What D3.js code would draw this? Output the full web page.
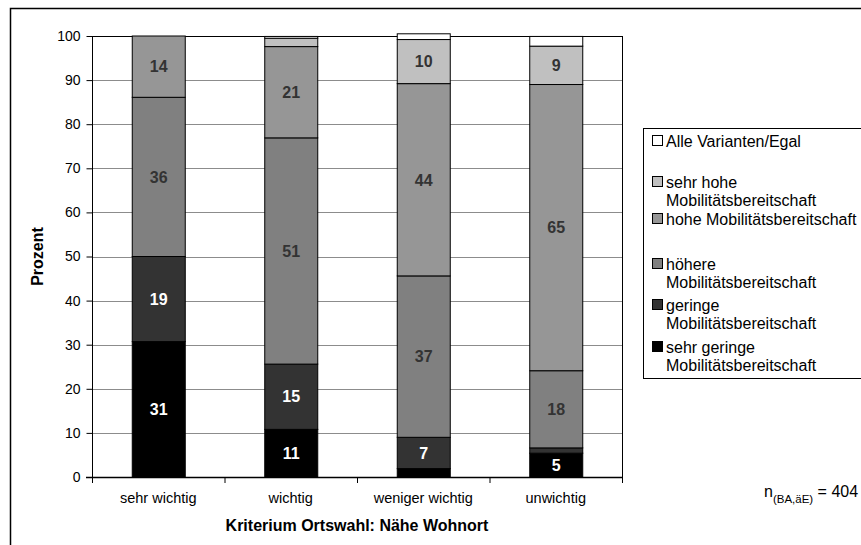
<!DOCTYPE html>
<html>
<head>
<meta charset="utf-8">
<script src="https://cdn.jsdelivr.net/npm/d3@7"></script>
<style>
  html, body { margin: 0; padding: 0; background: #fff; }
  svg { display: block; font-family: "Liberation Sans", Arial, sans-serif; }
</style>
</head>
<body>
<svg id="chart" width="861" height="545"></svg>
<script>
// Kriterium Ortswahl: Nähe Wohnort – Mobilitätsbereitschaft in Prozent
const categories = ["sehr wichtig", "wichtig", "weniger wichtig", "unwichtig"];

// one array per response group, stacked bottom to top
const sehrGering = [30.7, 10.8, 1.9, 5.4];
const gering     = [19.3, 14.8, 7.1, 1.2];
const hoehere    = [36.1, 51.3, 36.6, 17.5];
const hohe       = [13.9, 20.7, 43.6, 64.9];
const sehrHohe   = [0, 1.9, 10.0, 8.7];
const alleEgal   = [0, 0.4, 1.3, 2.2];

const seriesNames = [
  "sehr geringe Mobilitätsbereitschaft",
  "geringe Mobilitätsbereitschaft",
  "höhere Mobilitätsbereitschaft",
  "hohe Mobilitätsbereitschaft",
  "sehr hohe Mobilitätsbereitschaft",
  "Alle Varianten/Egal"
];
const seriesValues = [sehrGering, gering, hoehere, hohe, sehrHohe, alleEgal];
const seriesColors = ["#000000", "#333333", "#808080", "#969696", "#c0c0c0", "#ffffff"];
const labelColors  = ["#ffffff", "#ffffff", "#333333", "#333333", "#333333", "#333333"];

const yTicks = [0, 10, 20, 30, 40, 50, 60, 70, 80, 90, 100];

// legend entries, top to bottom, with their line breaks
const legendLines = [
  ["Alle Varianten/Egal"],
  ["sehr hohe", "Mobilitätsbereitschaft"],
  ["hohe Mobilitätsbereitschaft"],
  ["höhere", "Mobilitätsbereitschaft"],
  ["geringe", "Mobilitätsbereitschaft"],
  ["sehr geringe", "Mobilitätsbereitschaft"]
];
const legendColors = ["#ffffff", "#c0c0c0", "#969696", "#808080", "#333333", "#000000"];

const svg = d3.select("#chart");

// outer chart frame (runs off the right and bottom edge)
svg.append("rect")
  .attr("x", 10.5).attr("y", 8.5)
  .attr("width", 900).attr("height", 600)
  .attr("fill", "none").attr("stroke", "#000").attr("stroke-width", 1.5);

const plot = { left: 92, right: 622, top: 36, bottom: 477 };

const x = d3.scaleBand()
  .domain(categories)
  .range([plot.left, plot.right])
  .paddingInner(0.6)
  .paddingOuter(0.3);

const y = d3.scaleLinear().domain([0, 100]).range([plot.bottom, plot.top]);

// horizontal gridlines
svg.append("g")
  .selectAll("line")
  .data(yTicks.filter(t => t > 0 && t < 100))
  .join("line")
  .attr("x1", plot.left).attr("x2", plot.right)
  .attr("y1", d => Math.round(y(d)) + 0.5).attr("y2", d => Math.round(y(d)) + 0.5)
  .attr("stroke", "#8c8c8c").attr("stroke-width", 1);

// plot area border
svg.append("rect")
  .attr("x", plot.left + 0.5).attr("y", plot.top + 0.5)
  .attr("width", plot.right - plot.left).attr("height", plot.bottom - plot.top)
  .attr("fill", "none").attr("stroke", "#000").attr("stroke-width", 1);

// stacked segments
const rows = categories.map((c, i) => {
  const r = { cat: c };
  seriesNames.forEach((s, k) => { r[s] = seriesValues[k][i]; });
  return r;
});
const stacked = d3.stack().keys(seriesNames)(rows);

const barLayer = svg.append("g");
stacked.forEach((layer, k) => {
  barLayer.append("g")
    .selectAll("rect")
    .data(layer.filter(d => d[1] - d[0] > 0))
    .join("rect")
    .attr("x", d => x(d.data.cat) + 0.5)
    .attr("width", x.bandwidth())
    .attr("y", d => y(d[1]))
    .attr("height", d => y(d[0]) - y(d[1]))
    .attr("fill", seriesColors[k])
    .attr("stroke", "#000")
    .attr("stroke-width", 1);
});

// data labels for segments of 5 % and more
stacked.forEach((layer, k) => {
  barLayer.append("g")
    .selectAll("text")
    .data(layer.filter(d => d[1] - d[0] >= 5))
    .join("text")
    .attr("x", d => x(d.data.cat) + x.bandwidth() / 2 + 0.5)
    .attr("y", d => (y(d[0]) + y(d[1])) / 2)
    .attr("dy", "0.36em")
    .attr("text-anchor", "middle")
    .attr("font-size", 16)
    .attr("font-weight", "bold")
    .attr("fill", labelColors[k])
    .text(d => Math.round(d[1] - d[0]));
});

// y axis
const yAxis = svg.append("g")
  .attr("transform", `translate(${plot.left + 0.5},0)`)
  .call(d3.axisLeft(y).tickValues(yTicks).tickSize(6).tickPadding(6).tickFormat(d3.format("d")));
yAxis.select(".domain").attr("stroke", "#000").attr("d", `M0,${plot.top}V${plot.bottom + 0.5}`);
yAxis.selectAll(".tick line").attr("stroke", "#000");
yAxis.selectAll(".tick text")
  .attr("font-size", 14)
  .attr("font-family", "Liberation Sans, Arial, sans-serif")
  .attr("fill", "#000");

// x axis line, category ticks and labels
svg.append("line")
  .attr("x1", plot.left - 6).attr("x2", plot.right)
  .attr("y1", plot.bottom + 0.5).attr("y2", plot.bottom + 0.5)
  .attr("stroke", "#000").attr("stroke-width", 1.5);

const step = x.step();
svg.append("g")
  .selectAll("line")
  .data(d3.range(categories.length + 1))
  .join("line")
  .attr("x1", i => plot.left + i * step + 0.5)
  .attr("x2", i => plot.left + i * step + 0.5)
  .attr("y1", plot.bottom).attr("y2", plot.bottom + 6)
  .attr("stroke", "#000");

svg.append("g")
  .selectAll("text")
  .data(categories)
  .join("text")
  .attr("x", d => x(d) + x.bandwidth() / 2)
  .attr("y", 503)
  .attr("text-anchor", "middle")
  .attr("font-size", 14.5)
  .attr("fill", "#000")
  .text(d => d);

// axis titles
svg.append("text")
  .attr("x", (plot.left + plot.right) / 2)
  .attr("y", 531)
  .attr("text-anchor", "middle")
  .attr("font-size", 16)
  .attr("font-weight", "bold")
  .text("Kriterium Ortswahl: Nähe Wohnort");

svg.append("text")
  .attr("transform", `translate(43,${(plot.top + plot.bottom) / 2}) rotate(-90)`)
  .attr("text-anchor", "middle")
  .attr("font-size", 16)
  .attr("font-weight", "bold")
  .text("Prozent");

// legend
const legend = svg.append("g");
legend.append("rect")
  .attr("x", 643.5).attr("y", 128.5)
  .attr("width", 240).attr("height", 250)
  .attr("fill", "#fff").attr("stroke", "#000").attr("stroke-width", 1);

const legendY = [141, 182, 219, 264, 305, 347];
legendLines.forEach((lines, i) => {
  legend.append("rect")
    .attr("x", 652.5).attr("y", legendY[i] - 5.5)
    .attr("width", 10).attr("height", 10)
    .attr("fill", legendColors[i]).attr("stroke", "#000").attr("stroke-width", 1);
  lines.forEach((t, j) => {
    legend.append("text")
      .attr("x", 666)
      .attr("y", legendY[i] + j * 18.5)
      .attr("dy", "0.36em")
      .attr("font-size", 16)
      .attr("fill", "#000")
      .text(t);
  });
});

// sample size note
const note = svg.append("text").attr("x", 764).attr("y", 497).attr("font-size", 16).attr("fill", "#000");
note.append("tspan").text("n");
note.append("tspan").attr("font-size", 11.5).attr("dy", 6).text("(BA,äE)");
note.append("tspan").attr("dy", -6).text(" = 404");
</script>
</body>
</html>
